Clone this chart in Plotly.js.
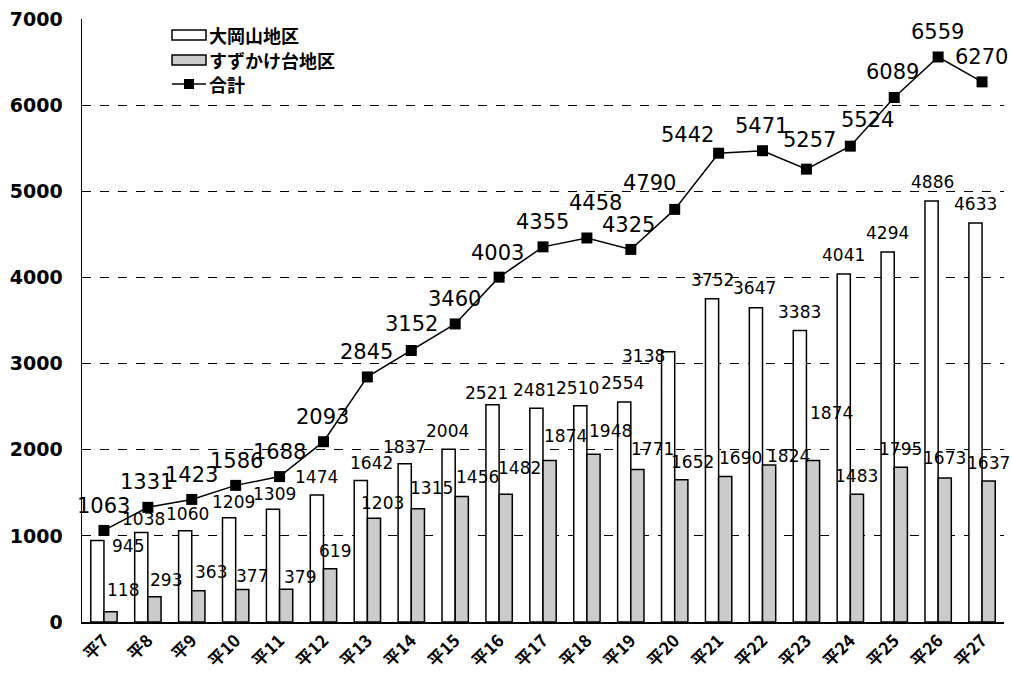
<!DOCTYPE html>
<html>
<head>
<meta charset="utf-8">
<script src="https://cdn.plot.ly/plotly-3.0.1.min.js"></script>
<style>html,body{margin:0;padding:0;background:#fff;}#chart{width:1012px;height:674px;}</style>
</head>
<body>
<div id="chart"></div>
<script>
// ---- data ----
const years = ['平7','平8','平9','平10','平11','平12','平13','平14','平15','平16','平17','平18','平19','平20','平21','平22','平23','平24','平25','平26','平27'];
const ookayama = [945,1038,1060,1209,1309,1474,1642,1837,2004,2521,2481,2510,2554,3138,3752,3647,3383,4041,4294,4886,4633];
const suzukake = [118,293,363,377,379,619,1203,1315,1456,1482,1874,1948,1771,1652,1690,1824,1874,1483,1795,1673,1637];
const total = [1063,1331,1423,1586,1688,2093,2845,3152,3460,4003,4355,4458,4325,4790,5442,5471,5257,5524,6089,6559,6270];
const seriesNames = ['大岡山地区','すずかけ台地区','合計'];

// ---- label offsets (px: [dx, dy-up]) ----
const offW = [[31,-5],[2,14],[2,17],[4,16],[2,15],[0,18],[11,18],[0,17],[-1,18],[-6,12],[-2,18],[-3,18],[-2,19],[-25,-4],[0,19],[-1,20],[0,19],[0,19],[0,19],[1,19],[0,19]];
const offG = [[12,22],[12,17],[13,19],[10,14],[14,12],[5,18],[9,15],[14,21],[16,20],[14,26],[16,25],[17,23],[15,20],[11,18],[15,18],[19,9],[18,48],[0,18],[0,18],[0,20],[0,18]];
const offT = [[0,24],[-1,25],[0,24],[1,24],[0,25],[-1,25],[-1,25],[0,26],[-1,25],[-2,24],[-1,25],[9,35],[-2,24],[-25,26],[-31,18],[-1,25],[3,29],[17,26],[-2,25],[-1,25],[-1,25]];

const W = 1012, H = 674;
const margin = {l:82, r:8, t:19, b:52};
const bargap = 0.4;
const plotW = W - margin.l - margin.r;
const plotH = H - margin.t - margin.b;
const catW = plotW / years.length;
const barHalf = catW * (1 - bargap) / 4;

const fillW = '#ffffff', fillG = '#cbcbcb';

const traces = [
  {type:'bar', name:seriesNames[0], x:years, y:ookayama, showlegend:false,
   marker:{color:fillW, line:{color:'#000', width:1.5}}},
  {type:'bar', name:seriesNames[1], x:years, y:suzukake, showlegend:false,
   marker:{color:fillG, line:{color:'#000', width:1.5}}},
  {type:'scatter', mode:'lines+markers', name:seriesNames[2], x:years, y:total, showlegend:false,
   line:{color:'#000', width:1.5}, marker:{symbol:'square', size:11, color:'#000'}}
];

const anns = [];
const barFont = {family:'DejaVu Sans', size:17, color:'#000'};
const totFont = {family:'DejaVu Sans', size:21, color:'#000'};
years.forEach((yr, i) => {
  anns.push({x:yr, y:ookayama[i], xref:'x', yref:'y', text:String(ookayama[i]), showarrow:false,
    xanchor:'center', yanchor:'middle', xshift:-barHalf + offW[i][0], yshift:offW[i][1], font:barFont});
  anns.push({x:yr, y:suzukake[i], xref:'x', yref:'y', text:String(suzukake[i]), showarrow:false,
    xanchor:'center', yanchor:'middle', xshift:barHalf + offG[i][0], yshift:offG[i][1], font:barFont});
  anns.push({x:yr, y:total[i], xref:'x', yref:'y', text:String(total[i]), showarrow:false,
    xanchor:'center', yanchor:'middle', xshift:offT[i][0], yshift:offT[i][1], font:totFont});
});

// ---- hand-drawn legend (wide symbols as in the original) ----
const px = v => (v - margin.l) / plotW;          // pixel x -> paper
const py = v => (H - margin.b - v) / plotH;      // pixel y -> paper
const legY = [35, 60, 84];
const symL = 172, symR = 206;
const shapes = [];
[fillW, fillG].forEach((c, k) => {
  shapes.push({type:'rect', xref:'paper', yref:'paper', x0:px(symL), x1:px(symR),
    y0:py(legY[k] + 5), y1:py(legY[k] - 5), fillcolor:c, line:{color:'#000', width:1.5}});
});
shapes.push({type:'line', xref:'paper', yref:'paper', x0:px(symL), x1:px(symR),
  y0:py(legY[2]), y1:py(legY[2]), line:{color:'#000', width:1.5}});
shapes.push({type:'rect', xref:'paper', yref:'paper', x0:px(189 - 5), x1:px(189 + 5),
  y0:py(legY[2] + 5), y1:py(legY[2] - 5), fillcolor:'#000', line:{color:'#000', width:0}});
const legFont = {family:'Noto Sans CJK JP', size:18, color:'#000', weight:'bold'};
seriesNames.forEach((n, k) => {
  anns.push({xref:'paper', yref:'paper', x:px(207), y:py(legY[k]), text:n, showarrow:false,
    xanchor:'left', yanchor:'middle', font:legFont});
});

const layout = {
  width:W, height:H, margin:margin,
  paper_bgcolor:'#fff', plot_bgcolor:'#fff',
  barmode:'group', bargap:bargap, bargroupgap:0,
  showlegend:false,
  xaxis:{type:'category', range:[-0.5, years.length - 0.5], showline:true, linecolor:'#000', linewidth:2, showgrid:false,
    ticks:'', tickangle:-45, tickfont:{family:'Noto Sans CJK JP', size:17, color:'#000', weight:'bold'},
    fixedrange:true},
  yaxis:{range:[0,7000], dtick:1000, tick0:0, showline:true, linecolor:'#000', linewidth:1.5,
    showgrid:true, gridcolor:'#000', gridwidth:1, griddash:'dash', zeroline:false,
    ticks:'', ticklabelstandoff:14,
    tickfont:{family:'DejaVu Sans', size:19, color:'#000', weight:'bold'}, fixedrange:true},
  shapes:shapes,
  annotations:anns
};

Plotly.newPlot('chart', traces, layout, {staticPlot:true, displayModeBar:false});
</script>
</body>
</html>
